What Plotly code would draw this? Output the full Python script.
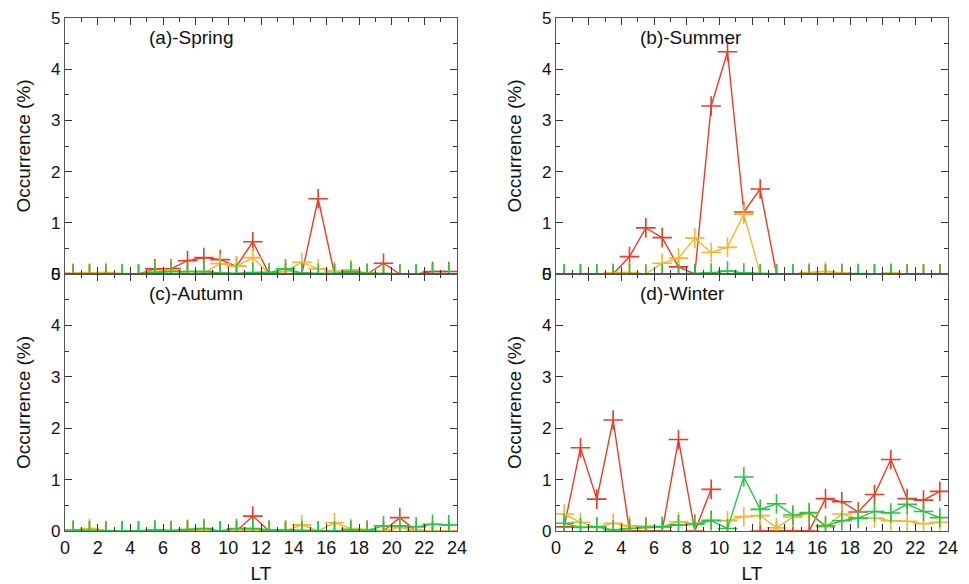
import plotly.graph_objects as go

lt = [h + 0.5 for h in range(24)]
nan = None

spring_red = [0, 0, 0, 0, 0, 0.1, 0.1, 0.26, 0.32, 0.28, 0.15, 0.63, 0, 0, 0, 1.47, 0, 0.05, 0, 0.21, 0, 0, 0.05, 0.05]
spring_orange = [0.02, 0.02, 0.03, 0.01, 0, 0.05, 0.08, 0, 0.02, 0.2, 0.15, 0.32, 0, 0.05, 0.23, 0.1, 0.05, 0.08, 0.02, 0, 0, 0, 0, 0]
spring_green = [0, 0, 0, 0, 0, 0.03, 0.05, 0.05, 0.05, 0.02, 0.01, 0.03, 0.03, 0.1, 0.02, 0.01, 0.01, 0.05, 0.01, 0.01, 0, 0, 0, 0]

summer_red = [0, 0, 0, 0, 0.34, 0.9, 0.71, 0.14, 0, 3.28, 4.34, 1.21, 1.66, 0, 0, 0, 0, 0, 0, 0, 0, 0, 0, 0]
summer_orange = [0, 0, 0, 0.02, 0.03, 0, 0.21, 0.31, 0.7, 0.42, 0.52, 1.17, 0, 0, 0, 0.03, 0.05, 0.02, 0, 0, 0.02, 0, 0, 0]
summer_green = [0, 0, 0, 0, 0, 0, 0, 0, 0.01, 0.02, 0.06, 0.02, 0.01, 0, 0, 0, 0, 0, 0.01, 0, 0, 0, 0, 0]

autumn_red = [0, 0, 0, 0, 0, 0, 0, 0, 0, 0, 0, 0.29, 0, 0, 0, 0, 0, 0, 0, 0, 0.26, 0, 0, 0]
autumn_orange = [0, 0.05, 0.01, 0, 0, 0.01, 0, 0.03, 0.02, 0, 0.01, 0.02, 0, 0, 0.12, 0, 0.16, 0.05, 0.03, 0, 0.07, 0.02, 0, 0]
autumn_green = [0.02, 0.01, 0, 0, 0, 0.02, 0.01, 0.03, 0.05, 0, 0.05, 0.05, 0.02, 0.02, 0.01, 0, 0, 0.02, 0.01, 0.1, 0.1, 0.08, 0.13, 0.12]

winter_red = [0.08, 1.62, 0.62, 2.16, 0, 0, 0, 1.78, 0, 0.81, nan, nan, 0, 0, 0, 0, 0.63, 0.57, 0.37, 0.71, 1.39, 0.63, 0.6, 0.77]
winter_orange = [0.33, 0.17, 0.07, 0.15, 0.1, 0.09, 0.09, 0.18, 0.14, 0.22, 0.2, 0.28, 0.3, 0.06, 0.27, 0.34, 0.08, 0.33, 0.24, 0.25, 0.2, 0.19, 0.14, 0.17]
winter_green = [0.15, 0.07, 0.08, 0.02, 0.05, 0.07, 0.08, 0.12, 0.13, 0.2, 0.05, 1.05, 0.42, 0.53, 0.31, 0.36, 0.1, 0.2, 0.25, 0.38, 0.35, 0.52, 0.38, 0.26]

panel_titles = ["(a)-Spring", "(b)-Summer", "(c)-Autumn", "(d)-Winter"]
x_ticks = list(range(0, 25, 2))
y_ticks = [0, 1, 2, 3, 4, 5]

RED = "#ec3b26"
ORANGE = "#f6b52e"
GREEN = "#27c445"

panels = [
    (spring_red, spring_orange, spring_green),
    (summer_red, summer_orange, summer_green),
    (autumn_red, autumn_orange, autumn_green),
    (winter_red, winter_orange, winter_green),
]

W, H = 961, 576
OFF = 8  # page body margin
xdoms = [((65 - OFF) / W, (457 - OFF) / W), ((556 - OFF) / W, (948 - OFF) / W)]
ydoms = [(1 - (274 - OFF) / H, 1 - (18 - OFF) / H), (1 - (531 - OFF) / H, 1 - (274 - OFF) / H)]

fig = go.Figure()
FONT = "Arial, Liberation Sans, sans-serif"

for i, series in enumerate(panels):
    row, col = divmod(i, 2)
    ax = "" if i == 0 else str(i + 1)
    for vals, color in zip(series, [RED, ORANGE, GREEN]):
        fig.add_trace(go.Scatter(
            x=lt, y=vals, mode="lines+markers",
            xaxis="x" + ax, yaxis="y" + ax,
            line=dict(color=color, width=1.4),
            marker=dict(symbol="cross-thin", size=14, color=color,
                        line=dict(color=color, width=1.6)),
            connectgaps=False, showlegend=False, hoverinfo="skip",
        ))
    xa = dict(
        domain=xdoms[col], range=[0, 24], anchor="y" + ax, automargin=False,
        tickmode="array", tickvals=x_ticks, ticklabeloverflow="allow",
        showticklabels=(row == 1),
        ticks="inside", ticklen=7, tickwidth=1.2, tickcolor="#333",
        minor=dict(dtick=1, tick0=0, ticks="inside", ticklen=4, tickcolor="#333", tickwidth=1.2),
        showline=True, linecolor="#555", linewidth=1.2, mirror="allticks",
        showgrid=False, zeroline=False,
        tickfont=dict(family=FONT, size=18, color="#111"),
    )
    if row == 1:
        xa["title"] = dict(text="LT", font=dict(family=FONT, size=19, color="#111"), standoff=12)
    ya = dict(
        domain=ydoms[row], range=[0, 5], anchor="x" + ax, automargin=False,
        tickmode="array", tickvals=y_ticks, ticklabeloverflow="allow",
        ticks="inside", ticklen=7, tickwidth=1.2, tickcolor="#333",
        minor=dict(dtick=0.5, tick0=0, ticks="inside", ticklen=4, tickcolor="#333", tickwidth=1.2),
        showline=True, linecolor="#555", linewidth=1.2, mirror="allticks",
        showgrid=False, zeroline=False,
        tickfont=dict(family=FONT, size=17, color="#111"),
        title=dict(text="Occurrence (%)", font=dict(family=FONT, size=19, color="#111"), standoff=15),
    )
    fig.layout["xaxis" + ax] = xa
    fig.layout["yaxis" + ax] = ya
    fig.add_annotation(
        text=panel_titles[i], xref="x" + ax + " domain", yref="y" + ax + " domain",
        x=0.21, y=0.925, xanchor="left", yanchor="middle", showarrow=False,
        font=dict(family=FONT, size=19, color="#111"),
    )

fig.update_layout(
    width=W, height=H,
    margin=dict(l=0, r=0, t=0, b=0),
    paper_bgcolor="white", plot_bgcolor="white",
)

fig.write_html("out.html")
